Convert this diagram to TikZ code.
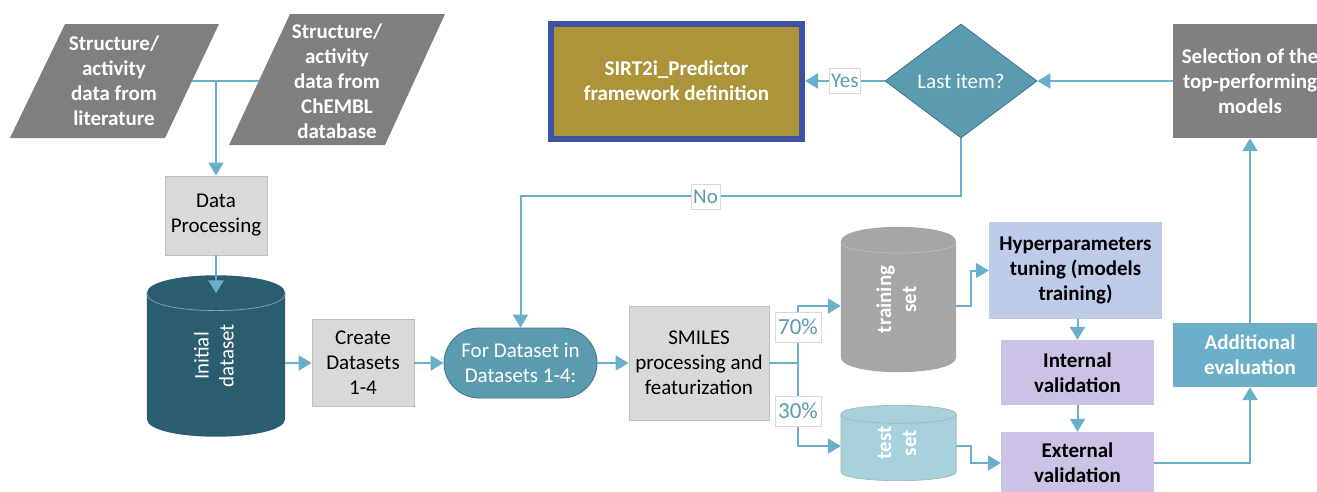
\documentclass[tikz,border=0pt]{standalone}
\usepackage{fontspec}
\setmainfont{Carlito}
\usepackage{graphicx}
\usetikzlibrary{shapes.geometric,arrows.meta,backgrounds}
\definecolor{linkc}{HTML}{6AAFCA}
\definecolor{datagray}{HTML}{7F7F7F}
\definecolor{procc}{HTML}{D9D9D9}
\definecolor{procline}{HTML}{BFBFBF}
\definecolor{initc}{HTML}{2A5E6E}
\definecolor{initline}{HTML}{8FB0BA}
\definecolor{loopc}{HTML}{5B9BAF}
\definecolor{loopline}{HTML}{41748A}
\definecolor{trainc}{HTML}{A6A6A6}
\definecolor{testc}{HTML}{A7D1DD}
\definecolor{testline}{HTML}{9DB8A8}
\definecolor{hyperc}{HTML}{BECCEA}
\definecolor{validc}{HTML}{CBC2E6}
\definecolor{addc}{HTML}{6BB0C8}
\definecolor{selc}{HTML}{808080}
\definecolor{sirtc}{HTML}{AD943A}
\definecolor{sirtline}{HTML}{3E52A3}
\definecolor{lblc}{HTML}{5B9BB0}
\definecolor{lblline}{HTML}{D9D9D9}
\newcommand{\vtext}[1]{\rotatebox{90}{\begin{tabular}{@{}c@{}}#1\end{tabular}}}

\begin{document}
\begin{tikzpicture}[x=1pt,y=-1pt,
  every node/.style={font=\fontsize{21}{25}\selectfont, align=center, inner sep=0pt},
  bold/.style={font=\fontsize{21}{25}\selectfont\bfseries},
  box/.style={rectangle, fill=procc, draw=procline, line width=0.8pt},
  link/.style={draw=linkc, line width=2pt, -{Triangle[length=13pt,width=15pt]}},
  plain/.style={draw=linkc, line width=2pt},
  lbl/.style={fill=white, draw=lblline, line width=0.6pt, text=lblc, inner xsep=2pt, minimum height=25pt},
  pct/.style={lbl, font=\fontsize{23}{27}\selectfont, inner xsep=3pt, minimum height=30pt}]
\useasboundingbox (0,0) rectangle (1317,491);
\clip (0,0) rectangle (1317,491);

\fill[datagray] (10,138) -- (65,24) -- (219,24) -- (165,138) -- cycle;
\node[bold, text=white] (lit) at (114,81) {Structure/\\activity\\data from\\literature};
\fill[datagray] (229,145) -- (290,14) -- (445,14) -- (385,145) -- cycle;
\node[bold, text=white] (chembl) at (337,81) {Structure/\\activity\\data from\\ChEMBL\\database};
\coordinate (litR) at (192,81);
\coordinate (chemL) at (259,81);
\coordinate (join) at (216,81);

\node[box, minimum width=102pt, minimum height=79pt] (proc) at (216,215.5) {Data\\Processing};
\node[text=white, minimum width=138pt, minimum height=125pt] (init) at (216,356) {\vtext{Initial\\dataset}};
\node[box, minimum width=102pt, minimum height=87pt] (create) at (363,363) {Create\\Datasets\\1-4};
\node[rectangle, rounded corners=35pt, fill=loopc, draw=loopline, line width=0.8pt, text=white,
  minimum width=153pt, minimum height=70pt] (loop) at (520.5,363) {For Dataset in\\Datasets 1-4:};
\node[box, minimum width=140pt, minimum height=114pt] (smiles) at (699,363) {SMILES\\processing and\\featurization};
\node[bold, text=white, minimum width=115pt, minimum height=115pt] (train) at (898.5,299.5) {\vtext{training\\set}};
\node[bold, text=white, minimum width=115pt, minimum height=57pt] (test) at (898.5,443) {\vtext{test\\set}};
\node[bold, fill=hyperc, minimum width=173pt, minimum height=97pt] (hyper) at (1075.5,270.5) {Hyperparameters\\tuning (models\\training)};
\node[bold, fill=validc, minimum width=153pt, minimum height=65pt] (intv) at (1077.5,372.5) {Internal\\validation};
\node[bold, fill=validc, minimum width=153pt, minimum height=62pt] (extv) at (1077.5,463) {External\\validation};
\node[bold, text=white, fill=addc, minimum width=154pt, minimum height=64pt] (addev) at (1250,355) {Additional\\evaluation};
\node[bold, text=white, fill=selc, minimum width=154pt, minimum height=114pt] (sel) at (1250,81) {Selection of the\\top-performing\\models};
\node[diamond, aspect=1.33, fill=loopc, draw=loopline, line width=0.8pt, text=white,
  minimum width=152pt, minimum height=114pt] (last) at (961,81) {Last item?};
\node[bold, text=white, fill=sirtc, draw=sirtline, line width=6pt,
  minimum width=251pt, minimum height=115pt] (sirt) at (676.5,81) {SIRT2i\_Predictor\\framework definition};

\begin{scope}[on background layer]
\fill[initc] (init.north west) .. controls +(0,-24) and +(0,-24) .. (init.north east) -- (init.south east)
  .. controls +(0,24) and +(0,24) .. (init.south west) -- cycle;
\draw[initline, line width=0.6pt] (init.north west) .. controls +(0,23) and +(0,23) .. (init.north east);
\fill[trainc] (train.north west) .. controls +(0,-20) and +(0,-20) .. (train.north east) -- (train.south east)
  .. controls +(0,20) and +(0,20) .. (train.south west) -- cycle;
\draw[procline, line width=0.6pt] (train.north west) .. controls +(0,15) and +(0,15) .. (train.north east);
\filldraw[fill=testc, draw=testline, line width=0.6pt] (test.north west) .. controls +(0,-12) and +(0,-12) .. (test.north east)
  -- (test.south east) .. controls +(0,12) and +(0,12) .. (test.south west) -- cycle;
\draw[testline, line width=0.6pt] (test.north west) .. controls +(0,12) and +(0,12) .. (test.north east);
\end{scope}

\draw[plain] (litR) -- (chemL);
\draw[link] (join) -- (proc);
\draw[link] (proc) -- (init.north);
\draw[link] (init.east |- create.west) -- (create);
\draw[link] (create) -- (loop);
\draw[link] (loop) -- (smiles);
\coordinate (split) at (798,363);
\draw[plain] (smiles.east) -- (split);
\draw[link] (split) |- ([yshift=-6.5pt]train.west);
\draw[link] (split) |- ([yshift=-3pt]test.west);
\node[pct] (p70) at (798,327) {70\%};
\node[pct] (p30) at (798,411) {30\%};
\draw[link] ([yshift=-6.5pt]train.east) -- ++(15,0) |- (hyper.west);
\draw[link] ([yshift=-3pt]test.east) -- ++(15,0) |- (extv.west);
\draw[link] (intv.north |- hyper.south) -- (intv.north);
\draw[link] (intv) -- (extv);
\draw[link] (extv) -| (addev);
\draw[link] (addev) -- (sel);
\draw[link] (sel) -- (last);
\draw[link] (last) -- node[lbl] {Yes} (sirt);
\draw[link] (last.south) -- ++(0,58) -| node[lbl, pos=0.29] {No} (loop.north);
\end{tikzpicture}
\end{document}
